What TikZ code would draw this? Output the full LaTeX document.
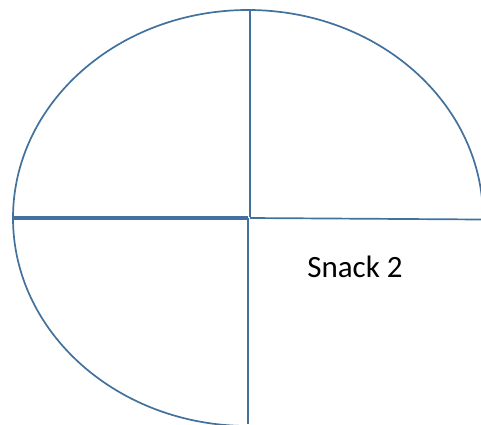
\documentclass[tikz,border=0pt]{standalone}
\usepackage{fontspec}
\setmainfont{Carlito}
\usepackage{tikz}
\usetikzlibrary{positioning}
\definecolor{tanyer}{RGB}{65,113,156}
\tikzset{
  rim/.style={draw=tanyer,line width=1.7pt},
  cut/.style={draw=tanyer,line width=1.7pt},
  snackfelirat/.style={font=\fontsize{31}{37}\selectfont,inner sep=0pt},
}

\begin{document}
\begin{tikzpicture}[x=1pt,y=1pt]
  \useasboundingbox (0,0) rectangle (481,424);
  \clip (0,0) rectangle (481,424);
  % tanyer, harom negyed
  \draw[rim] (483,206) arc[start angle=0,end angle=270,x radius=235,y radius=208];
  % vagasok
  \coordinate (fent) at (250.2,414);
  \coordinate (kozepf) at (250.2,207);
  \coordinate (kozepl) at (248.3,206);
  \coordinate (lent) at (248.3,0);
  \coordinate (bal1) at (13,207.3);
  \coordinate (bal2) at (13,205.2);
  \coordinate (kozb1) at (248,207.3);
  \coordinate (kozb2) at (248,205.2);
  \coordinate (kozj) at (250,206);
  \coordinate (jobb) at (481,204.5);
  \draw[cut] (fent) -- (kozepf);
  \draw[cut] (kozepl) -- (lent);
  \draw[cut] (bal1) -- (kozb1);
  \draw[cut] (bal2) -- (kozb2);
  \draw[cut] (kozj) -- (jobb);
  % felirat
  \node[snackfelirat] (s2) at (355,157) {Snack 2};
\end{tikzpicture}
\end{document}
